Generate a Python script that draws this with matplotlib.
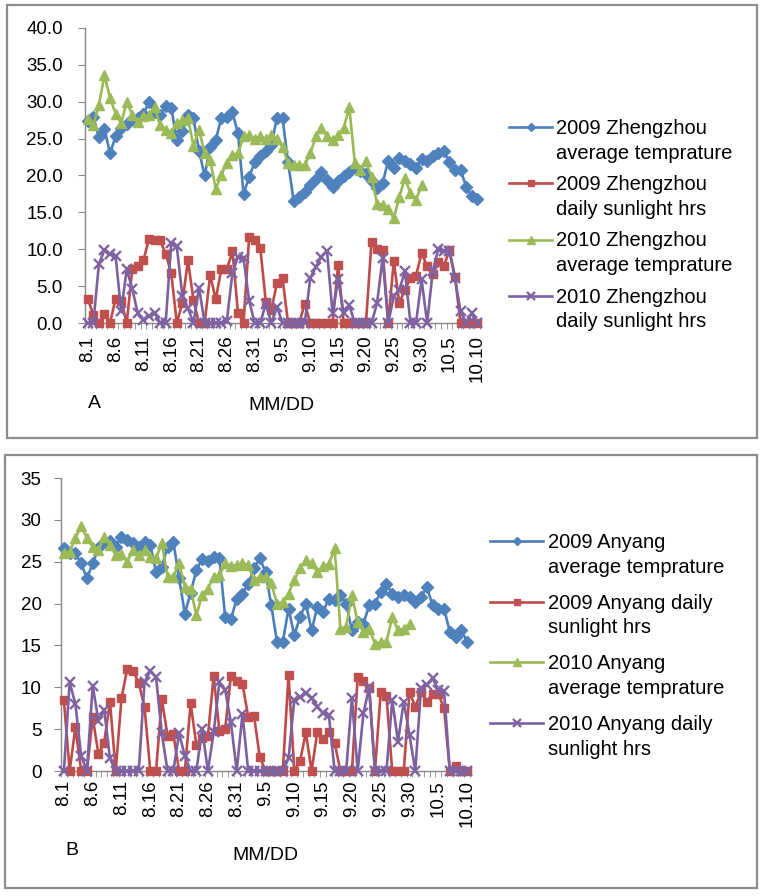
import numpy as np
import matplotlib
matplotlib.use("Agg")
import matplotlib.pyplot as plt
from matplotlib.patches import Rectangle

plt.rcParams['font.family'] = ['Liberation Sans', 'DejaVu Sans']

# ---------------- data ----------------
tick_labels = ["8.1", "8.6", "8.11", "8.16", "8.21", "8.26", "8.31", "9.5",
               "9.10", "9.15", "9.20", "9.25", "9.30", "10.5", "10.10"]

zz_temp_2009 = [27.4, 27.9, 25.2, 26.3, 23.0, 25.3, 26.5, 27.0, 27.6, 27.8,
                28.3, 30.0, 28.6, 28.2, 29.4, 29.2, 24.8, 26.1, 28.2, 27.8,
                23.3, 20.0, 23.9, 24.8, 27.8, 27.9, 28.6, 25.7, 17.5, 19.8,
                21.8, 22.6, 23.3, 24.2, 27.8, 27.8, 21.8, 16.6, 17.1, 17.8,
                18.7, 19.5, 20.5, 19.4, 18.5, 19.2, 19.9, 20.5, 21.2, 20.6,
                20.2, 19.2, 18.3, 19.0, 22.0, 21.0, 22.4, 22.0, 21.6, 21.0,
                22.3, 22.0, 22.6, 23.0, 23.3, 21.8, 20.7, 20.8, 18.5, 17.2,
                16.8]
zz_sun_2009 = [3.3, 1.1, 0, 1.2, 0, 3.3, 3.0, 0, 7.3, 7.7,
               8.5, 11.4, 11.3, 11.2, 9.4, 6.8, 0, 2.7, 8.5, 3.1,
               0, 0, 6.5, 3.2, 7.3, 7.3, 9.7, 1.4, 0, 11.6,
               11.3, 10.2, 2.9, 1.8, 5.4, 6.1, 0, 0, 0, 2.6,
               0, 0, 0, 0, 0, 7.9, 0, 0, 0, 0,
               0, 11.0, 10.1, 9.9, 0, 8.4, 2.7, 4.5, 6.1, 6.4,
               9.5, 7.7, 6.7, 8.3, 7.7, 9.9, 6.3, 0, 0, 0,
               0]
zz_temp_2010 = [27.7, 26.8, 29.6, 33.6, 30.5, 28.4, 27.1, 30.0, 28.2, 27.3,
                28.0, 28.2, 29.3, 26.8, 26.2, 25.7, 27.1, 27.5, 27.8, 24.0,
                26.2, 23.0, 22.1, 18.2, 20.1, 21.7, 22.8, 23.0, 25.3, 25.5,
                25.0, 25.3, 25.0, 25.5, 25.0, 23.9, 21.7, 21.4, 21.4, 21.4,
                23.0, 25.3, 26.4, 25.3, 24.8, 25.5, 26.4, 29.3, 21.7, 20.7,
                21.9, 19.8, 16.2, 16.0, 15.5, 14.2, 17.1, 19.6, 17.6, 16.7,
                18.7]
zz_sun_2010 = [0, 0, 8.0, 9.9, 9.3, 9.1, 1.6, 7.3, 4.6, 1.3,
               0.4, 0.9, 1.4, 0, 0, 10.8, 10.4, 3.7, 2.0, 0,
               4.8, 0, 0, 0, 0, 0.3, 6.8, 9.0, 8.8, 3.0,
               0, 0, 2.6, 0, 2.2, 0, 0, 0, 0, 0,
               6.1, 7.6, 9.0, 9.8, 1.3, 5.9, 1.3, 2.4, 0, 0,
               0, 0, 2.7, 8.8, 0, 3.6, 4.5, 7.0, 0, 0,
               5.9, 0, 7.0, 10.0, 9.8, 9.7, 6.1, 1.6, 0, 1.3,
               0]

ay_temp_2009 = [26.6, 26.1, 26.0, 24.8, 23.0, 24.8, 26.6, 27.3, 27.5, 26.8,
                28.0, 27.6, 27.2, 26.8, 27.4, 27.0, 23.8, 24.4, 26.8, 27.4,
                23.0, 18.8, 21.3, 24.0, 25.3, 25.1, 25.6, 25.4, 18.4, 18.1,
                20.6, 21.2, 22.3, 24.2, 25.4, 23.8, 19.8, 15.4, 15.4, 19.4,
                16.2, 18.4, 20.0, 16.8, 19.6, 19.0, 20.6, 20.4, 21.0, 20.0,
                16.8, 17.8, 17.6, 19.8, 20.0, 21.4, 22.3, 21.2, 20.8, 21.0,
                20.8, 20.2, 20.8, 22.0, 19.8, 19.4, 19.4, 16.6, 16.0, 16.8,
                15.4]
ay_sun_2009 = [8.5, 0, 5.2, 0, 0, 6.4, 2.0, 3.4, 8.3, 0,
               8.7, 12.2, 12.0, 10.5, 7.6, 0, 0, 8.6, 4.2, 4.4,
               0, 0, 8.1, 3.1, 4.0, 4.2, 11.3, 4.8, 5.0, 11.4,
               10.8, 10.4, 6.5, 6.6, 1.7, 0, 0, 0, 0, 11.5,
               0, 1.2, 4.6, 0, 4.7, 3.8, 4.6, 3.4, 0, 0,
               0, 11.2, 10.8, 9.9, 0, 9.4, 8.9, 0, 0, 0,
               9.4, 7.7, 9.4, 8.3, 9.2, 9.2, 7.5, 0, 0.6, 0,
               0]
ay_temp_2010 = [26.0, 26.2, 27.8, 29.3, 27.8, 26.8, 26.4, 28.0, 27.0, 25.8,
                25.9, 25.0, 26.4, 25.8, 26.4, 25.6, 25.4, 27.2, 23.2, 23.2,
                24.8, 22.0, 21.8, 18.6, 21.0, 21.8, 23.2, 23.4, 24.8, 24.5,
                24.6, 24.8, 24.6, 22.8, 23.2, 23.2, 22.4, 20.0, 20.2, 21.2,
                22.8, 24.2, 25.2, 24.8, 23.8, 24.5, 24.7, 26.6, 17.0, 17.2,
                21.0, 17.8, 16.6, 17.0, 15.2, 15.4, 15.4, 18.4, 16.8, 17.0,
                17.6]
ay_sun_2010 = [0, 10.6, 8.0, 1.8, 0, 10.2, 6.0, 7.3, 1.5, 0,
               0, 0, 0, 0, 10.6, 12.0, 11.2, 4.5, 0, 0,
               4.5, 1.8, 0, 0, 5.0, 0, 4.6, 10.6, 9.7, 5.8,
               0, 6.8, 0, 0, 0, 0, 0, 0, 0, 1.5,
               8.5, 8.8, 9.3, 8.7, 7.7, 6.9, 6.7, 0, 0, 0,
               8.7, 0, 6.9, 10.0, 0, 0, 0, 8.5, 3.5, 8.3,
               4.3, 0, 9.9, 10.3, 11.1, 9.7, 9.5, 0, 0, 0,
               0]

labels_a = ["2009 Zhengzhou\naverage temprature",
            "2009 Zhengzhou\ndaily sunlight hrs",
            "2010 Zhengzhou\naverage temprature",
            "2010 Zhengzhou\ndaily sunlight hrs"]
labels_b = ["2009 Anyang\naverage temprature",
            "2009 Anyang daily\nsunlight hrs",
            "2010 Anyang\naverage temprature",
            "2010 Anyang daily\nsunlight hrs"]

# ---------------- style ----------------
W, H = 764, 896
fig = plt.figure(figsize=(W / 100, H / 100), dpi=100)

def fx(px):
    return px / W

def fy(py):
    return 1 - py / H

styles = [
    dict(color='#4A7EBB', marker='D', ms=6.3, mfc='#4F81BD', mec='#4F81BD'),
    dict(color='#BE4B48', marker='s', ms=6.0, mfc='#C0504D', mec='#C0504D'),
    dict(color='#98B954', marker='^', ms=7.5, mfc='#9BBB59', mec='#9BBB59'),
    dict(color='#7D60A0', marker='x', ms=7.5, mew=1.7, mfc='#8064A2', mec='#8064A2'),
]
axis_col = '#868686'
TICK_FS = 13.5
LEG_FS = 14.5
LAB_FS = 14

# panel frames
for (l, t, r, b) in [(7, 5, 757, 438), (5, 455, 757, 888)]:
    fig.patches.append(Rectangle((fx(l), fy(b)), fx(r) - fx(l), fy(t) - fy(b),
                                 transform=fig.transFigure, fill=False,
                                 edgecolor='#8C8C8C', lw=1.6))

def make_panel(rect, series, labels, ymax, ystep, yfmt, leg_xy, leg_spacing,
               handle_len, text_pad, tag, tag_xy, xlab_xy, tick_pad, ypad):
    l, t, r, b = rect
    ax = fig.add_axes([fx(l), fy(b), fx(r) - fx(l), fy(t) - fy(b)])
    handles = []
    for vals, st in zip(series, styles):
        x = np.arange(len(vals))
        h, = ax.plot(x, vals, lw=1.9, zorder=3, clip_on=False, **st)
        handles.append(h)
    ax.set_xlim(-0.5, 70.5)
    ax.set_ylim(0, ymax)
    for s in ['top', 'right']:
        ax.spines[s].set_visible(False)
    for s in ['left', 'bottom']:
        ax.spines[s].set_color(axis_col)
        ax.spines[s].set_linewidth(1.0)
    yt = np.arange(0, ymax + 0.01, ystep)
    ax.set_yticks(yt)
    ax.set_yticklabels([yfmt.format(v) for v in yt], fontsize=TICK_FS)
    ax.tick_params(axis='y', direction='out', length=5, color=axis_col, pad=ypad)
    ax.set_xticks(np.arange(0, 71, 5))
    ax.set_xticklabels(tick_labels, rotation=90, fontsize=TICK_FS, va='top')
    ax.set_xticks(np.arange(-0.5, 71, 1), minor=True)
    ax.tick_params(axis='x', which='major', length=0, pad=tick_pad)
    ax.tick_params(axis='x', which='minor', direction='out', length=4, color=axis_col)
    leg = ax.legend(handles, labels, loc='upper left',
                    bbox_to_anchor=(fx(leg_xy[0]), fy(leg_xy[1])),
                    bbox_transform=fig.transFigure,
                    frameon=False, fontsize=LEG_FS, handlelength=handle_len,
                    handleheight=1.1, handletextpad=text_pad,
                    labelspacing=leg_spacing,
                    borderpad=0, borderaxespad=0, markerscale=0.7)
    for txt in leg.get_texts():
        txt.set_linespacing(1.38)
    # align each legend handle with the first line of its label
    for col in leg._legend_handle_box.get_children():
        for item in col.get_children():
            item.align = "top"
    fig.text(fx(tag_xy[0]), fy(tag_xy[1]), tag, fontsize=LAB_FS, ha='center', va='center')
    fig.text(fx(xlab_xy[0]), fy(xlab_xy[1]), "MM/DD", fontsize=LAB_FS, ha='center', va='center')
    return ax

make_panel((85, 28, 480, 323),
           [zz_temp_2009, zz_sun_2009, zz_temp_2010, zz_sun_2010],
           labels_a, 40, 5, "{:.1f}", (509, 119), 0.62, 2.14, 0.2,
           "A", (94.5, 403), (281, 405), 9, 11)

make_panel((61, 478, 470, 771),
           [ay_temp_2009, ay_sun_2009, ay_temp_2010, ay_sun_2010],
           labels_b, 35, 5, "{:.0f}", (490, 533), 0.84, 2.64, 0.25,
           "B", (71.5, 850), (265, 855), 6.5, 9)

fig.savefig("out.png", dpi=100)
